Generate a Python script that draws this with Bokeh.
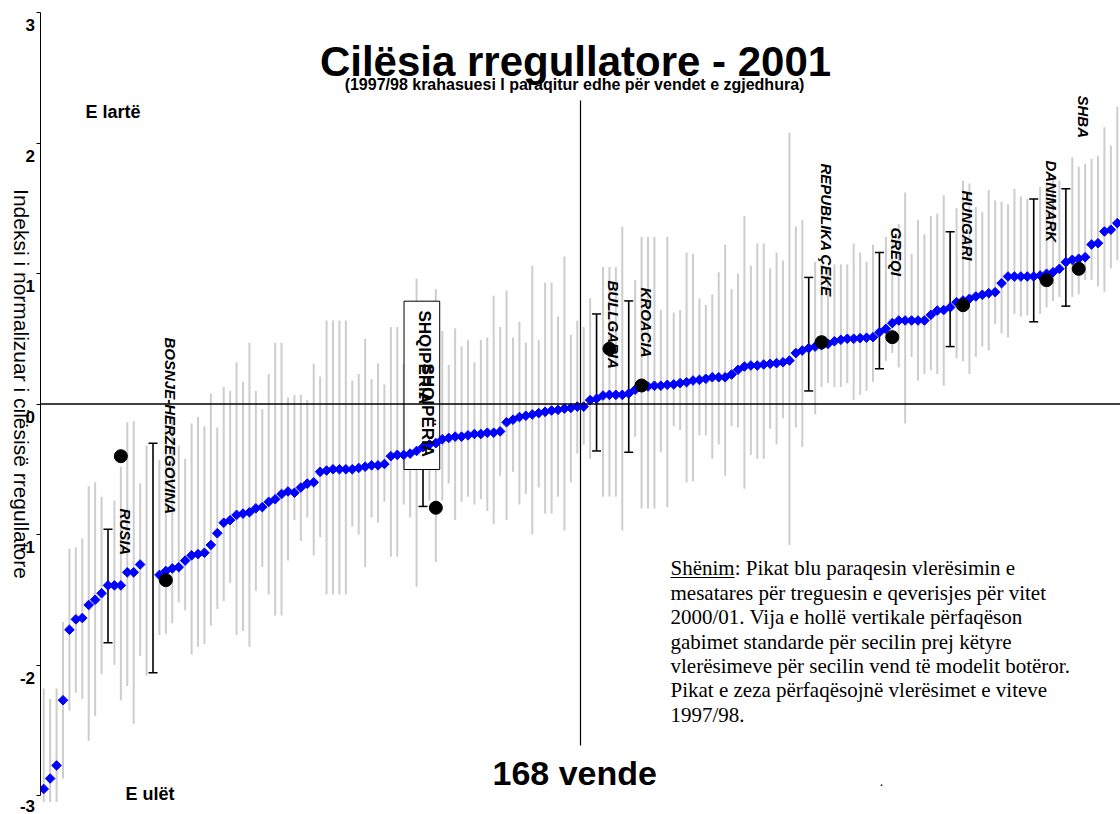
import math
from bokeh.plotting import figure
from bokeh.layouts import row
from bokeh.models import Range1d, FixedTicker, Span, Label, ColumnDataSource
from bokeh.embed import file_html
from bokeh.resources import INLINE

# ---------------- data ----------------
N_COUNTRIES = 168
nan = float("nan")

# 2001 point estimates (blue diamonds), countries sorted left to right
blue_2001 = [
    -2.95, -2.87, -2.77, -2.27, -1.73, -1.65, -1.64, -1.54, -1.50, -1.45,
    -1.39, -1.39, -1.39, -1.29, -1.29, -1.23, nan, nan, -1.31, -1.28,
    -1.26, -1.25, -1.20, -1.16, -1.15, -1.14, -1.08, -0.99, -0.91, -0.89,
    -0.85, -0.84, -0.83, -0.80, -0.79, -0.75, -0.73, -0.69, -0.67, -0.68,
    -0.64, -0.61, -0.60, -0.52, -0.51, -0.50, -0.50, -0.50, -0.50, -0.49,
    -0.48, -0.47, -0.47, -0.46, -0.40, -0.39, -0.39, -0.38, -0.36, -0.33,
    -0.31, -0.30, -0.27, -0.26, -0.25, -0.25, -0.24, -0.23, -0.23, -0.22,
    -0.22, -0.21, -0.14, -0.12, -0.10, -0.09, -0.08, -0.07, -0.06, -0.05,
    -0.045, -0.035, -0.03, -0.02, -0.02, 0.03, 0.04, 0.065, 0.07, 0.07,
    0.07, 0.08, 0.11, 0.13, 0.134, 0.14, 0.14, 0.147, 0.15, 0.16,
    0.167, 0.18, 0.185, 0.193, 0.205, 0.205, 0.205, 0.226, 0.262, 0.287,
    0.295, 0.295, 0.303, 0.308, 0.313, 0.32, 0.333, 0.39, 0.41, 0.428,
    0.44, 0.45, 0.461, 0.481, 0.492, 0.50, 0.50, 0.505, 0.508, 0.512,
    0.55, 0.576, 0.62, 0.64, 0.64, 0.64, 0.64, 0.64, 0.683, 0.716,
    0.72, 0.74, 0.78, 0.793, 0.806, 0.824, 0.837, 0.849, 0.857, 0.926,
    0.977, 0.977, 0.977, 0.977, 0.977, 0.985, 0.998, 1.01, 1.036, 1.087,
    1.105, 1.113, 1.125, 1.222, 1.232, 1.322, 1.335, 1.386,
]

# upper / lower end of the standard-error bars
err_hi = [
    -2.18, -2.26, -2.18, -1.67, -1.11, -1.10, -1.03, -0.63, -0.60, -0.71,
    -0.96, -0.74, -0.48, -0.14, -0.13, -0.61, -0.32, -0.30, -0.43, -0.08,
    -0.09, -0.32, -0.42, -0.15, -0.10, -0.17, 0.08, -0.18, 0.13, 0.10,
    0.32, 0.17, 0.47, 0.10, -0.04, 0.23, 0.47, 0.47, 0.05, 0.07,
    0.07, 0.03, 0.31, 0.21, 0.64, 0.64, 0.64, 0.64, 0.18, 0.23,
    0.50, 0.19, 0.31, 0.15, 0.59, 0.59, 0.31, 0.41, 0.96, 0.125,
    0.56, 0.88, 0.56, 0.30, 0.58, 0.44, 0.49, 0.32, 0.49, 0.51,
    0.83, 0.59, 0.87, 0.51, 0.63, 0.47, 1.06, 0.49, 0.93, 0.93,
    0.67, 1.13, 0.53, 0.64, 0.59, 0.81, 0.69, 1.05, 1.05, 1.05,
    1.36, 0.79, 0.95, 1.28, 1.28, 1.28, 0.72, 1.28, 0.70, 0.72,
    1.16, 1.15, 0.81, 0.76, 0.84, 1.01, 1.22, 0.88, 1.00, 1.44,
    1.06, 1.23, 1.23, 1.04, 1.16, 1.10, 2.08, 1.36, 1.41, 0.97,
    1.09, 1.07, 1.05, 1.07, 1.07, 1.07, 1.23, 1.16, 1.09, 1.22,
    1.16, 1.28, 1.28, 1.38, 1.62, 1.15, 1.41, 1.30, 1.44, 1.46,
    1.60, 1.32, 1.50, 1.71, 1.69, 1.51, 1.47, 1.64, 1.56, 1.55,
    1.53, 1.65, 1.59, 1.57, 1.57, 1.66, 1.69, 1.74, 1.71, 1.65,
    1.89, 1.82, 1.84, 1.88, 1.90, 2.12, 1.98, 2.28,
]
err_lo = [
    -3.05, -3.05, -3.05, -2.87, -2.35, -2.21, -2.26, -2.58, -2.39, -2.07,
    -1.83, -2.00, -2.27, -2.16, -2.45, -1.93, -2.08, -2.06, -1.77, -1.76,
    -1.68, -1.52, -1.58, -1.92, -1.86, -1.84, -1.70, -1.57, -1.51, -1.37,
    -1.77, -1.74, -1.86, -1.43, -1.25, -1.46, -1.62, -1.62, -1.20, -0.89,
    -1.05, -0.87, -1.16, -1.02, -1.46, -1.46, -1.46, -1.46, -0.94, -1.00,
    -1.25, -0.87, -0.91, -0.75, -1.17, -1.17, -0.77, -0.87, -1.40, -0.785,
    -0.74, -1.21, -0.74, -0.61, -0.89, -0.75, -0.71, -0.77, -0.73, -0.82,
    -0.92, -0.55, -0.89, -0.52, -0.77, -0.69, -1.00, -0.64, -0.84, -0.84,
    -0.71, -0.97, -0.60, -0.38, -0.31, -0.42, -0.36, -0.71, -0.71, -0.71,
    -0.97, -0.37, -0.25, -0.80, -0.80, -0.80, -0.37, -0.79, -0.17, -0.20,
    -0.60, -0.59, -0.24, -0.24, -0.42, -0.31, -0.55, -0.17, -0.18, -0.65,
    -0.39, -0.42, -0.42, -0.19, -0.31, -0.11, -1.08, -0.18, -0.33, 0.10,
    -0.08, 0.13, 0.16, 0.13, 0.13, 0.16, 0.03, 0.07, 0.10, 0.17,
    0.27, 0.33, 0.39, 0.28, -0.15, 0.36, 0.18, 0.23, 0.26, 0.23,
    0.14, 0.44, 0.35, 0.33, 0.23, 0.36, 0.44, 0.41, 0.61, 0.54,
    0.51, 0.69, 0.67, 0.68, 0.63, 0.69, 0.74, 0.79, 0.82, 0.75,
    0.82, 0.84, 0.95, 0.95, 0.90, 0.86, 1.04, 1.10,
]

# selected countries (black error bars) and their 1997/98 estimates (black dots)
sel_names = ["RUSIA", "BOSNJE-HERZEGOVINA", "SHQIPËRIA", "BULLGARIA", "KROACIA",
             "REPUBLIKA ÇEKE", "GREQI", "HUNGARI", "DANIMARK", "SHBA"]
sel_idx = [11, 18, 60, 87, 92, 120, 131, 142, 155, 160]
dot_idx = [13, 20, 62, 89, 94, 122, 133, 144, 157, 162]
dot_1997 = [-0.40, -1.35, -0.795, 0.423, 0.142, 0.474, 0.512, 0.757, 0.949, 1.036]

y_ticks = [-3, -2, -1, 0, 1, 2, 3]
y_title = "Indeksi i normalizuar i cilësisë rregullatore"

# ---------------- layout helpers (page pixel -> data) ----------------
W, H = 1120, 814
LW = 35                                # width of the narrow strip holding the y texts
PX_LEFT, PX_RIGHT = 40.0, 1120.0      # plot frame edges in page pixels
PX_TOP, PX_BOTTOM = 0.0, 814.0
Y0_PX, PX_PER_UNIT = 403.5, 130.5
X0, X1 = 0.5, N_COUNTRIES + 0.5


def X(px):
    return X0 + (px - PX_LEFT) * (X1 - X0) / (PX_RIGHT - PX_LEFT)


def Y(py):
    return (Y0_PX - py) / PX_PER_UNIT


FONT = "Liberation Sans"
SERIF = "Liberation Serif"

p = figure(width=W - LW, height=H, output_backend="svg", toolbar_location=None,
           x_range=Range1d(X0, X1), y_range=Range1d(Y(PX_BOTTOM), Y(PX_TOP)),
           min_border_left=int(PX_LEFT) - LW, min_border_right=0, min_border_top=0,
           min_border_bottom=0, x_axis_location=None, y_axis_location="left")
p.outline_line_color = None
p.grid.visible = False
p.background_fill_color = "white"
p.border_fill_color = "white"

# ---------------- y axis (line + ticks; its labels are drawn in the strip) ----------------
ax = p.yaxis[0]
ax.ticker = FixedTicker(ticks=y_ticks)
ax.bounds = (-3, 3)
ax.major_tick_out = 4
ax.major_tick_in = 0
ax.minor_tick_line_color = None
ax.axis_line_color = "black"
ax.axis_line_width = 1
ax.major_tick_line_color = "black"
ax.major_label_standoff = 0
ax.major_label_text_font_size = "1px"
ax.major_label_text_color = None
ax.major_label_overrides = {t: "" for t in y_ticks}

# strip on the left, sharing the y scale, for tick labels and axis title
strip = figure(width=LW, height=H, output_backend="svg", toolbar_location=None,
               x_range=Range1d(0, LW), y_range=p.y_range,
               min_border_left=0, min_border_right=0, min_border_top=0, min_border_bottom=0,
               x_axis_location=None, y_axis_location=None)
strip.outline_line_color = None
strip.grid.visible = False
strip.background_fill_color = "white"
strip.border_fill_color = "white"


def lab(fig, text, x, y, size, bold=True, italic=False, align="left", baseline="middle",
        angle=0.0, font=FONT):
    style = "bold italic" if (bold and italic) else ("bold" if bold else ("italic" if italic else "normal"))
    fig.add_layout(Label(x=x, y=y, text=text, text_font=font, text_font_size=f"{size}px",
                         text_font_style=style, text_align=align, text_baseline=baseline,
                         angle=angle, text_color="black"))


for t in y_ticks:
    shift = 12.5 if t != -3 else 10.0     # labels sit a little below their ticks
    lab(strip, str(t), LW - 0.5, t - shift / PX_PER_UNIT, 17, align="right")
lab(strip, y_title, 20.5, Y(383.5), 21, bold=False, align="center", angle=-math.pi / 2)

# ---------------- marks ----------------
idx = list(range(1, N_COUNTRIES + 1))
src = ColumnDataSource(dict(x=idx, y=blue_2001, hi=err_hi, lo=err_lo))

# gray standard-error bars
p.segment(x0="x", y0="lo", x1="x", y1="hi", source=src, line_color="#cdcdcd", line_width=2)

# zero line and middle line
p.add_layout(Span(location=0, dimension="width", line_color="black", line_width=1.5))
mid = (N_COUNTRIES + 1) / 2
p.segment(x0=[mid], y0=[Y(745)], x1=[mid], y1=[Y(100)], line_color="black", line_width=1.2)

# black bars for selected countries
sel_hi = [err_hi[i - 1] for i in sel_idx]
sel_lo = [err_lo[i - 1] for i in sel_idx]
ssrc = ColumnDataSource(dict(x=sel_idx, hi=sel_hi, lo=sel_lo,
                             xl=[i - 0.7 for i in sel_idx], xr=[i + 0.7 for i in sel_idx]))
p.segment(x0="x", y0="lo", x1="x", y1="hi", source=ssrc, line_color="black", line_width=1.5)
p.segment(x0="xl", y0="hi", x1="xr", y1="hi", source=ssrc, line_color="black", line_width=1.5)
p.segment(x0="xl", y0="lo", x1="xr", y1="lo", source=ssrc, line_color="black", line_width=1.5)

# white framed box behind the Albania label
alb = sel_idx[sel_names.index("SHQIPËRIA")]
p.quad(left=[alb - 2.95], right=[alb + 2.6], top=[Y(300.7)], bottom=[Y(469)],
       fill_color="white", line_color="black", line_width=1)

# blue diamonds
p.scatter(x="x", y="y", source=src, marker="square", angle=math.pi / 4, size=6.8,
          fill_color="#0000ff", line_color="#0000ff", line_width=1)

# black dots (1997/98)
p.scatter(x=dot_idx, y=dot_1997, marker="circle", size=13, fill_color="black", line_color="black")

# ---------------- texts ----------------
lab(p, "Cilësia rregullatore - 2001", X(575), Y(61), 42, align="center")
lab(p, "(1997/98 krahasuesi I paraqitur edhe për vendet e zgjedhura)", X(574), Y(83.5), 16,
    align="center")
lab(p, "E lartë", X(85), Y(111.5), 18)
lab(p, "E ulët", X(125), Y(793.5), 18)
lab(p, "168 vende", X(492), Y(772), 34)
lab(p, ".", X(879), Y(780), 14, bold=False)

# country labels (vertical, reading downward)
label_top_px = [508, 337, 310, 280, 287, 163, 227, 190, 160, 95]
for name, di, top in zip(sel_names, dot_idx, label_top_px):
    if name == "SHQIPËRIA":
        # the original shows this label printed twice, overlapping
        lab(p, name, alb + 0.25, Y(top), 17, align="left", angle=-math.pi / 2)
        lab(p, name, alb + 0.75, Y(top + 53), 17, align="left", angle=-math.pi / 2)
    else:
        lab(p, name, di + 0.7, Y(top), 15, italic=True, align="left", angle=-math.pi / 2)

# note
note_lines = [
    "Shënim: Pikat blu paraqesin vlerësimin e",
    "mesatares për treguesin e qeverisjes për vitet",
    "2000/01. Vija e hollë vertikale përfaqëson",
    "gabimet standarde për secilin prej këtyre",
    "vlerësimeve për secilin vend të modelit botëror.",
    "Pikat e zeza përfaqësojnë vlerësimet e viteve",
    "1997/98.",
]
NOTE_X, NOTE_BASE0, NOTE_DY, NOTE_SIZE = 670, 575, 24.4, 21
for k, line in enumerate(note_lines):
    lab(p, line, X(NOTE_X), Y(NOTE_BASE0 + k * NOTE_DY - 0.34 * NOTE_SIZE), NOTE_SIZE,
        bold=False, font=SERIF)
# underline of "Shënim"
p.segment(x0=[X(NOTE_X)], y0=[Y(NOTE_BASE0 + 2)], x1=[X(NOTE_X + 64)], y1=[Y(NOTE_BASE0 + 2)],
          line_color="black", line_width=1)

layout = row(strip, p, spacing=0)
open("out.html", "w").write(file_html(layout, INLINE))
